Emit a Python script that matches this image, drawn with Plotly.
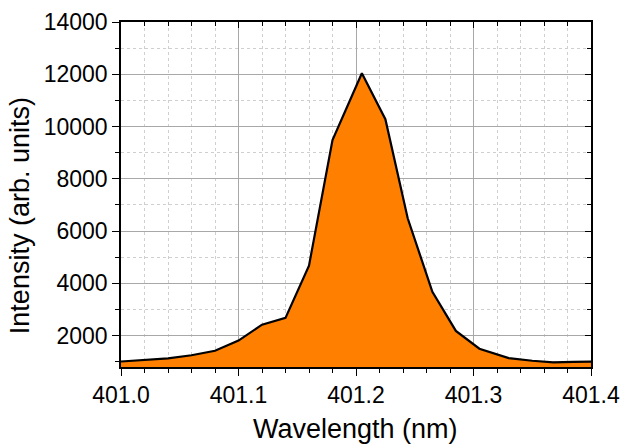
import plotly.graph_objects as go

wavelength = [401.000, 401.020, 401.040, 401.060, 401.080, 401.100, 401.120, 401.140,
              401.160, 401.180, 401.205, 401.225, 401.244, 401.265, 401.285, 401.305,
              401.330, 401.350, 401.368, 401.385, 401.400]
intensity = [1010, 1060, 1130, 1250, 1420, 1810, 2420, 2680,
             4680, 9480, 12040, 10280, 6490, 3680, 2180, 1500,
             1140, 1040, 980, 995, 1005]

x_range = [401.0, 401.4]
y_range = [800, 14000]
x_ticks = [401.0, 401.1, 401.2, 401.3, 401.4]
x_ticktext = ["401.0", "401.1", "401.2", "401.3", "401.4"]
y_ticks = [2000, 4000, 6000, 8000, 10000, 12000, 14000]
y_ticktext = ["2000", "4000", "6000", "8000", "10000", "12000", "14000"]
x_title = "Wavelength (nm)"
y_title = "Intensity (arb. units)"

FONT = "Liberation Sans, Arial, sans-serif"

fig = go.Figure()
fig.add_trace(go.Scatter(
    x=wavelength, y=intensity, mode="lines", fill="tozeroy",
    fillcolor="#FF8000", line=dict(color="black", width=2.2),
    showlegend=False, hoverinfo="skip"))
fig.add_trace(go.Scatter(
    x=wavelength, y=intensity, mode="lines", line=dict(width=0),
    opacity=0, xaxis="x2", yaxis="y2", showlegend=False, hoverinfo="skip"))

grid_major = "#a8a8a8"
grid_minor = "#cfcfcf"

fig.update_layout(
    width=622, height=445,
    margin=dict(l=121, r=31, t=22, b=78),
    paper_bgcolor="white", plot_bgcolor="white",
    font=dict(family=FONT, color="black"),
    xaxis=dict(
        range=x_range, tickvals=x_ticks, ticktext=x_ticktext,
        showline=True, linecolor="black", linewidth=1.5,
        ticks="outside", ticklen=7, tickwidth=1, tickcolor="black",
        tickfont=dict(size=23),
        showgrid=True, gridcolor=grid_major, gridwidth=1,
        minor=dict(dtick=0.02, tick0=401.0, ticks="outside", ticklen=4,
                   tickcolor="black", showgrid=True, gridcolor=grid_minor,
                   griddash="dot", gridwidth=1),
        zeroline=False, layer="below traces", automargin=False,
    ),
    yaxis=dict(
        range=y_range, tickvals=y_ticks, ticktext=y_ticktext,
        showline=True, linecolor="black", linewidth=1.5,
        ticks="outside", ticklen=7, tickwidth=1, tickcolor="black",
        tickfont=dict(size=23),
        showgrid=True, gridcolor=grid_major, gridwidth=1,
        minor=dict(dtick=1000, tick0=0, ticks="outside", ticklen=4,
                   tickcolor="black", showgrid=True, gridcolor=grid_minor,
                   griddash="dot", gridwidth=1),
        zeroline=False, automargin=False,
    ),
    xaxis2=dict(
        range=x_range, overlaying="x", side="top", tickvals=x_ticks,
        showticklabels=False, showline=True, linecolor="black", linewidth=1.5,
        ticks="inside", ticklen=6, tickcolor="black", showgrid=False,
        minor=dict(dtick=0.02, tick0=401.0, ticks="inside", ticklen=4,
                   tickcolor="black", showgrid=False),
        zeroline=False, automargin=False,
    ),
    yaxis2=dict(
        range=y_range, overlaying="y", side="right", tickvals=y_ticks,
        showticklabels=False, showline=True, linecolor="black", linewidth=1.5,
        ticks="inside", ticklen=6, tickcolor="black", showgrid=False,
        minor=dict(dtick=1000, tick0=0, ticks="inside", ticklen=4,
                   tickcolor="black", showgrid=False),
        zeroline=False, automargin=False,
    ),
    annotations=[
        dict(text=x_title, xref="paper", yref="paper", x=0.498, y=-0.18,
             xanchor="center", yanchor="middle", showarrow=False,
             font=dict(size=27, family=FONT, color="black")),
        dict(text=y_title, xref="paper", yref="paper", x=-0.215, y=0.44,
             xanchor="center", yanchor="middle", showarrow=False, textangle=-90,
             font=dict(size=27, family=FONT, color="black")),
    ],
)

fig.write_html("out.html")
